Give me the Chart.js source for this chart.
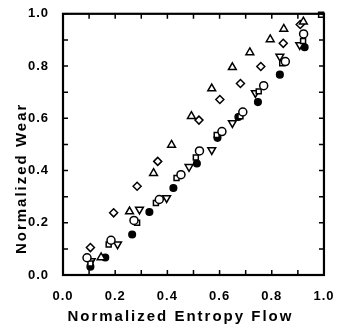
<!DOCTYPE html>
<html>
<head>
<meta charset="utf-8">
<script src="https://cdn.jsdelivr.net/npm/chart.js@4"></script>
<style>
body{margin:0;background:#fff;}
#wrap{width:339px;height:329px;}
</style>
</head>
<body>
<div id="wrap"><canvas id="myChart"></canvas></div>
<script>
// data (normalized entropy flow, normalized wear)
var triUpX   = [0.146,0.255,0.347,0.416,0.492,0.570,0.649,0.716,0.794,0.846,0.921];
var triUpY   = [0.067,0.243,0.390,0.498,0.608,0.714,0.795,0.852,0.902,0.942,0.970];
var diamondX = [0.105,0.194,0.284,0.363,0.521,0.601,0.680,0.758,0.844,0.909];
var diamondY = [0.105,0.238,0.340,0.435,0.593,0.672,0.733,0.798,0.887,0.959];
var circleX  = [0.092,0.184,0.272,0.369,0.452,0.523,0.609,0.689,0.769,0.852,0.922];
var circleY  = [0.066,0.133,0.209,0.289,0.384,0.475,0.549,0.624,0.725,0.817,0.923];
var squareX  = [0.105,0.175,0.284,0.356,0.435,0.509,0.589,0.680,0.750,0.840,0.920,0.989];
var squareY  = [0.044,0.117,0.200,0.276,0.371,0.450,0.536,0.608,0.703,0.811,0.896,0.996];
var triDownX = [0.108,0.209,0.293,0.397,0.483,0.570,0.649,0.737,0.831,0.907];
var triDownY = [0.054,0.118,0.251,0.295,0.414,0.479,0.582,0.697,0.837,0.881];
var dotX     = [0.105,0.162,0.265,0.331,0.423,0.513,0.592,0.672,0.747,0.831,0.926];
var dotY     = [0.032,0.067,0.155,0.241,0.333,0.427,0.525,0.605,0.662,0.767,0.872];

var xTitle = "Normalized Entropy Flow";
var yTitle = "Normalized Wear";

function pts(xs, ys){
    var out = [];
    for(var i = 0; i < xs.length; i++){
        out.push({x: xs[i], y: ys[i]});
    }
    return out;
}

function series(xs, ys, style, radius, fill, rot){
    return {
        data: pts(xs, ys),
        pointStyle: style,
        pointRadius: radius,
        pointRotation: rot || 0,
        pointBackgroundColor: fill,
        pointBorderColor: '#000',
        pointBorderWidth: 1.5,
        showLine: false,
        clip: false
    };
}

var FONT = "'Liberation Sans', Arial, sans-serif";

// box, inward ticks and axis titles
var frame = {
    id: 'frame',
    beforeDraw: function(chart){
        chart.ctx.letterSpacing = '1px';
    },
    afterDraw: function(chart){
        var ctx = chart.ctx;
        var a = chart.chartArea;
        var sx = chart.scales.x, sy = chart.scales.y;
        ctx.save();
        ctx.strokeStyle = '#000';
        ctx.lineWidth = 1.5;
        sx.ticks.forEach(function(t){
            var px = sx.getPixelForValue(t.value);
            ctx.beginPath();
            ctx.moveTo(px, a.bottom); ctx.lineTo(px, a.bottom - 5);
            ctx.moveTo(px, a.top); ctx.lineTo(px, a.top + 5);
            ctx.stroke();
        });
        sy.ticks.forEach(function(t){
            var py = sy.getPixelForValue(t.value);
            ctx.beginPath();
            ctx.moveTo(a.left, py); ctx.lineTo(a.left + 5, py);
            ctx.moveTo(a.right, py); ctx.lineTo(a.right - 5, py);
            ctx.stroke();
        });
        ctx.lineWidth = 2.2;
        ctx.strokeRect(a.left, a.top, a.right - a.left, a.bottom - a.top);

        ctx.fillStyle = '#000';
        ctx.font = 'bold 15px ' + FONT;
        ctx.letterSpacing = '2px';
        ctx.textAlign = 'center';
        ctx.textBaseline = 'middle';
        ctx.fillText(xTitle, a.left + (a.right - a.left) * 0.45, a.bottom + 42);
        ctx.translate(22, a.top + (a.bottom - a.top) * 0.63);
        ctx.rotate(-Math.PI / 2);
        ctx.fillText(yTitle, 0, 0);
        ctx.restore();
    }
};

function tickLabel(value, index){
    return index % 2 === 0 ? value.toFixed(1) : '';
}

var config = {
    type: 'scatter',
    data: {
        datasets: [
            series(triUpX, triUpY, 'triangle', 4.5, '#fff'),
            series(diamondX, diamondY, 'rectRot', 4, '#fff'),
            series(circleX, circleY, 'circle', 4, '#fff'),
            series(squareX, squareY, 'rect', 3.5, '#fff'),
            series(triDownX, triDownY, 'triangle', 4.5, '#fff', 180),
            series(dotX, dotY, 'circle', 3.3, '#000')
        ]
    },
    options: {
        responsive: true,
        maintainAspectRatio: false,
        animation: false,
        layout: { padding: { top: 12, right: 11, left: 0, bottom: 0 } },
        plugins: { legend: { display: false }, tooltip: { enabled: false } },
        scales: {
            x: {
                min: 0, max: 1,
                grid: { display: false },
                border: { display: false },
                afterFit: function(s){ s.height = 54; },
                ticks: {
                    stepSize: 0.1, autoSkip: false, maxRotation: 0,
                    padding: 6, color: '#000',
                    font: { family: FONT, size: 13, weight: 'bold' },
                    callback: tickLabel
                }
            },
            y: {
                min: 0, max: 1,
                grid: { display: false },
                border: { display: false },
                afterFit: function(s){ s.width = 63; },
                ticks: {
                    stepSize: 0.1, autoSkip: false,
                    padding: 6, color: '#000',
                    font: { family: FONT, size: 13, weight: 'bold' },
                    callback: tickLabel
                }
            }
        }
    },
    plugins: [frame]
};

var myChart = new Chart(document.getElementById("myChart").getContext("2d"), config);
</script>
</body>
</html>
